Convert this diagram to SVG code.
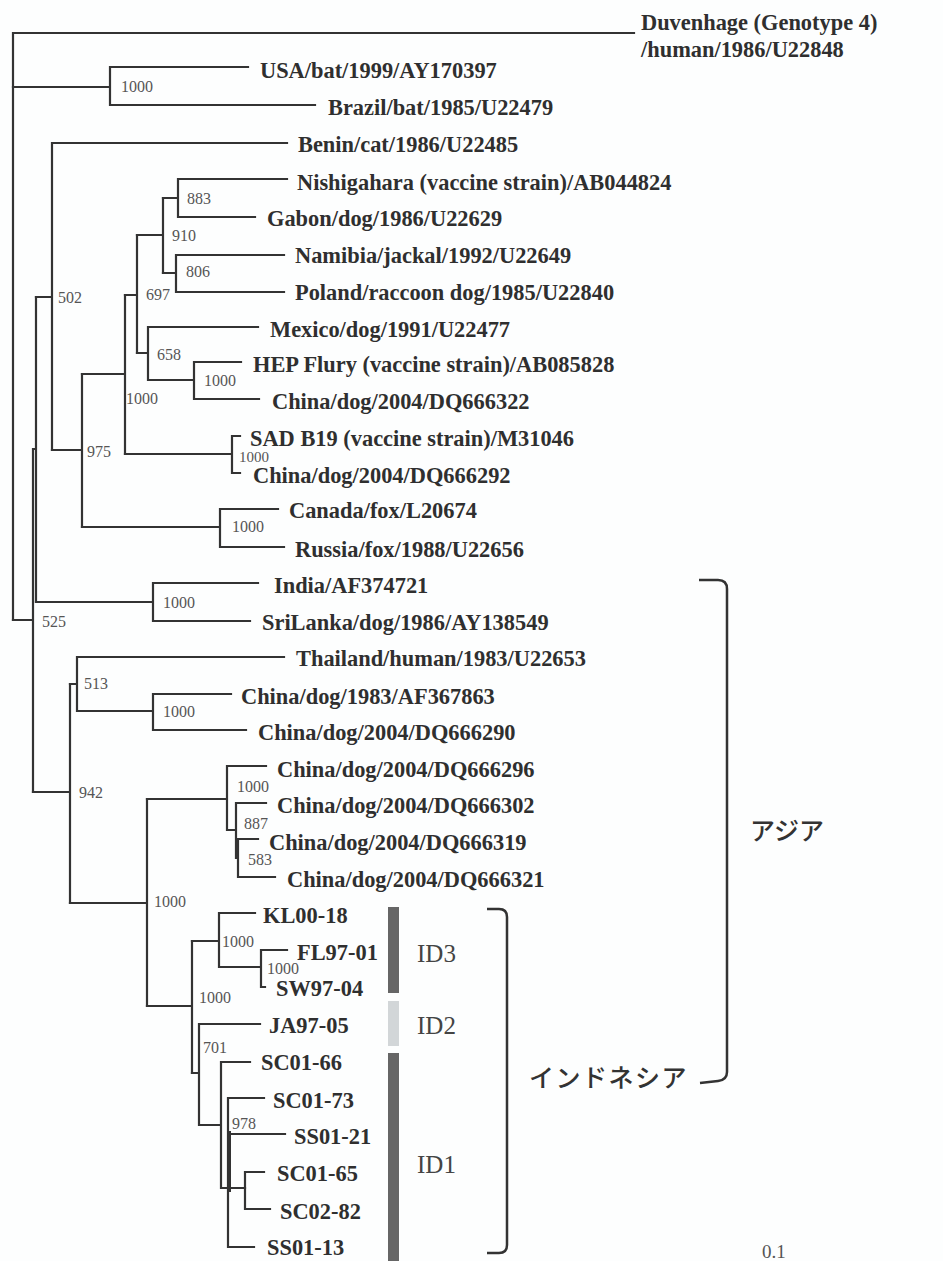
<svg xmlns="http://www.w3.org/2000/svg" width="943" height="1261" viewBox="0 0 943 1261">
<style>
.br{fill:none;stroke:#333;stroke-width:2.2;stroke-linecap:square}
.lf{font-family:"Liberation Serif","Times New Roman",serif;font-weight:bold;font-size:22.4px;fill:#2f2f2f}
.bs{font-family:"Liberation Serif","Times New Roman",serif;font-size:16px;fill:#555}
.id{font-family:"Liberation Serif","Times New Roman",serif;font-size:25px;fill:#444}
.jp{font-family:"Noto Sans CJK JP","Noto Sans",sans-serif;font-size:25px;font-weight:500;fill:#333}
.bk{fill:none;stroke:#333;stroke-width:2.5}
</style>
<rect width="943" height="1261" fill="#fdfefe"/>
<g id="connectors" class="br">
<path d="M13 33V620M13 33H634"/>
<path d="M13 87H110M110 67V105M110 67H248M110 105H315"/>
<path d="M13 620H33M33 449V792M33 449H36M36 297V602"/>
<path d="M36 297H52M52 143V450M52 143H287"/>
<path d="M52 450H82M82 374V527"/>
<path d="M82 374H125M125 295V454"/>
<path d="M125 295H137M137 235V353"/>
<path d="M137 235H163M163 198V273"/>
<path d="M163 198H178M178 179V217M178 179H287M178 217H255"/>
<path d="M163 273H176M176 255V292M176 255H284M176 292H284"/>
<path d="M137 353H148M148 327V380M148 327H258M148 380H194M194 362V399M194 362H241M194 399H259"/>
<path d="M125 454H232M232 436V473M232 436H240M232 473H240"/>
<path d="M82 527H220M220 509V547M220 509H278M220 547H284"/>
<path d="M36 602H153M153 583V621M153 583H258M153 621H250"/>
<path d="M33 792H70M70 684V903"/>
<path d="M70 684H77M77 657V711M77 657H284M77 711H153M153 694V730M153 694H231M153 730H246"/>
<path d="M70 903H147M147 799V1006"/>
<path d="M147 799H227M227 766V830M227 766H266M227 830H236M236 803V858M236 803H266M236 858H238M238 839V877M238 839H258M238 877H275"/>
<path d="M147 1006H192M192 941V1073"/>
<path d="M192 941H219M219 913V967M219 913H255M219 967H261M261 950V987M261 950H287M261 987H265"/>
<path d="M192 1073H199M199 1024V1125M199 1024H260M199 1125H221M221 1062V1188M221 1062H250M221 1188H245"/>
<path d="M228 1098V1247M228 1098H264M231 1134H285M228 1247H254M245 1172V1209M245 1172H264M245 1209H270"/>
<path d="M229 1133V1190" style="stroke-width:4"/>
</g>
<g id="support" class="bs">
<text x="121" y="92">1000</text>
<text x="187" y="204">883</text>
<text x="172" y="241">910</text>
<text x="186" y="277">806</text>
<text x="146" y="300">697</text>
<text x="58" y="303">502</text>
<text x="157" y="360">658</text>
<text x="204" y="386">1000</text>
<text x="126" y="404">1000</text>
<text x="239" y="462" style="font-size:15px">1000</text>
<text x="87" y="457">975</text>
<text x="232" y="532">1000</text>
<text x="163" y="608">1000</text>
<text x="42" y="627">525</text>
<text x="84" y="689">513</text>
<text x="163" y="717">1000</text>
<text x="79" y="798">942</text>
<text x="237" y="792">1000</text>
<text x="244" y="829">887</text>
<text x="248" y="865">583</text>
<text x="154" y="907">1000</text>
<text x="222" y="947">1000</text>
<text x="267" y="974">1000</text>
<text x="199" y="1003">1000</text>
<text x="203" y="1053">701</text>
<text x="232" y="1129">978</text>
</g>
<g id="leaves" class="lf">
<g id="n-duvenhage"><text x="641" y="30">Duvenhage (Genotype 4)</text><text x="641" y="57">/human/1986/U22848</text></g>
<g id="n-usa"><text x="260" y="78">USA/bat/1999/AY170397</text></g>
<g id="n-brazil"><text x="328" y="115">Brazil/bat/1985/U22479</text></g>
<g id="n-benin"><text x="298" y="152">Benin/cat/1986/U22485</text></g>
<g id="n-nishigahara"><text x="297" y="190">Nishigahara (vaccine strain)/AB044824</text></g>
<g id="n-gabon"><text x="267" y="226">Gabon/dog/1986/U22629</text></g>
<g id="n-namibia"><text x="295" y="263">Namibia/jackal/1992/U22649</text></g>
<g id="n-poland"><text x="295" y="300">Poland/raccoon dog/1985/U22840</text></g>
<g id="n-mexico"><text x="270" y="337">Mexico/dog/1991/U22477</text></g>
<g id="n-hep"><text x="253" y="372">HEP Flury (vaccine strain)/AB085828</text></g>
<g id="n-dq666322"><text x="272" y="409">China/dog/2004/DQ666322</text></g>
<g id="n-sad"><text x="250" y="446">SAD B19 (vaccine strain)/M31046</text></g>
<g id="n-dq666292"><text x="253" y="483">China/dog/2004/DQ666292</text></g>
<g id="n-canada"><text x="289" y="518">Canada/fox/L20674</text></g>
<g id="n-russia"><text x="295" y="557">Russia/fox/1988/U22656</text></g>
<g id="n-india"><text x="274" y="593">India/AF374721</text></g>
<g id="n-srilanka"><text x="262" y="630">SriLanka/dog/1986/AY138549</text></g>
<g id="n-thailand"><text x="296" y="666">Thailand/human/1983/U22653</text></g>
<g id="n-af367863"><text x="241" y="704">China/dog/1983/AF367863</text></g>
<g id="n-dq666290"><text x="258" y="740">China/dog/2004/DQ666290</text></g>
<g id="n-dq666296"><text x="277" y="777">China/dog/2004/DQ666296</text></g>
<g id="n-dq666302"><text x="277" y="813">China/dog/2004/DQ666302</text></g>
<g id="n-dq666319"><text x="269" y="850">China/dog/2004/DQ666319</text></g>
<g id="n-dq666321"><text x="287" y="887">China/dog/2004/DQ666321</text></g>
<g id="n-kl0018"><text x="263" y="923">KL00-18</text></g>
<g id="n-fl9701"><text x="297" y="960">FL97-01</text></g>
<g id="n-sw9704"><text x="276" y="996">SW97-04</text></g>
<g id="n-ja9705"><text x="269" y="1033">JA97-05</text></g>
<g id="n-sc0166"><text x="261" y="1070">SC01-66</text></g>
<g id="n-sc0173"><text x="273" y="1108">SC01-73</text></g>
<g id="n-ss0121"><text x="294" y="1144">SS01-21</text></g>
<g id="n-sc0165"><text x="277" y="1181">SC01-65</text></g>
<g id="n-sc0282"><text x="280" y="1219">SC02-82</text></g>
<g id="n-ss0113"><text x="267" y="1255">SS01-13</text></g>
</g>
<g id="groups">
<rect x="388" y="907" width="11" height="86" fill="#666"/>
<rect x="388" y="1001" width="11" height="45" fill="#d2d6d8"/>
<rect x="388" y="1053" width="11" height="208" fill="#666"/>
<text class="id" x="417" y="962">ID3</text>
<text class="id" x="417" y="1034">ID2</text>
<text class="id" x="417" y="1173">ID1</text>
<path class="bk" d="M487 909H499Q507 909 507 917V1245Q507 1253 499 1253H487"/>
<text class="jp" x="529" y="1087" letter-spacing="1.5">インドネシア</text>
<path class="bk" d="M699 580H718Q727 580 727 589V1072Q727 1080 718 1081L700 1083"/>
<text class="jp" x="750" y="840">アジア</text>
</g>
<text class="bs" x="762" y="1258" style="font-size:19px">0.1</text>
</svg>
